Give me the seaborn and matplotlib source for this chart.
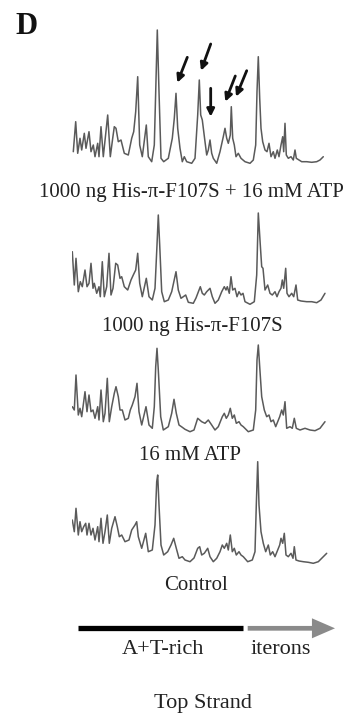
import matplotlib
matplotlib.use("Agg")
import matplotlib.pyplot as plt
import seaborn as sns

# ---------------------------------------------
# DATA - densitometry scans (position along strand, signal above baseline)
# ---------------------------------------------
pos_1 = [1.3, 3.7, 5.7, 8, 9.7, 12.3, 14, 17, 19, 21.3, 23, 25.7, 27, 29, 31.3, 35.7, 38.3,
         40.7, 42.3, 44, 46.3, 49, 52.3, 56.3, 59.7, 61.7, 63.7, 65.7, 67.7, 70.3, 74.3, 76.3,
         79.7, 82.3, 83.7, 85.3, 87, 89, 91.7, 96.3, 100.3, 102.3, 104, 105.7, 108, 110.3,
         112.3, 114.7, 119.7, 123, 125.7, 127.3, 128.7, 130.3, 133, 134.7, 136.3, 138, 139.7,
         141.3, 144.7, 148, 151.3, 153, 154.7, 156.3, 158.3, 159.3, 160.7, 162.3, 164, 166.3,
         169, 173, 178, 181.3, 183.7, 185, 186.3, 187.7, 189, 190.7, 193, 195, 197, 199, 201.3,
         203, 205.3, 207, 209, 210.7, 211.7, 213, 214.3, 216.3, 219, 221.3, 223, 224.3, 227,
         229.7, 234.7, 239.7, 244.7, 248, 251.3]
sig_1 = [13.3, 43.3, 11.7, 26.7, 15, 31.7, 16.7, 33.3, 13.3, 20, 8.3, 21.7, 8.3, 38.3, 8.3, 50,
         8.3, 26.7, 38.3, 36.7, 23.3, 25, 11.7, 10, 26.7, 33.3, 53.3, 88.3, 20, 8.3, 40, 8.3,
         3.3, 20, 73.3, 135, 73.3, 6.7, 3.3, 6.7, 26.7, 46.7, 71.7, 36.7, 16.7, 3.3, 8.3, 3.3,
         1.7, 6.7, 50, 85, 50, 45, 23.3, 10, 15, 25, 11.7, 6.7, 1.7, 13.3, 28.3, 36.7, 26.7,
         21.7, 30, 58.3, 26.7, 20, 8.3, 11.7, 6.7, 3.3, 1.7, 5, 20, 73.3, 108.3, 66.7, 36.7,
         23.3, 15, 13.3, 21.7, 8.3, 13.3, 6.7, 15, 8.3, 20, 28.3, 13.3, 41.7, 10, 6.7, 8.3, 5,
         15, 6.7, 5, 3.3, 3.3, 2.7, 3.3, 5, 8.3]

pos_2 = [0.3, 2.3, 4, 6.3, 8.3, 10.3, 13, 15, 17, 19, 21, 22.3, 24.7, 27, 28.3, 30.3, 32.3,
         34.7, 37, 39, 41, 43.7, 45.7, 48, 49.7, 52.3, 55.7, 59, 61.3, 63.7, 65.7, 67.7, 70.3,
         74.3, 77, 80.3, 83, 85, 86.3, 87.7, 89.7, 92.3, 96.3, 99.7, 104, 106.3, 109, 111.3,
         113.7, 116.3, 121.3, 124, 128.3, 130.3, 132.3, 134.7, 138, 140.3, 143, 146.3, 149.7,
         152.3, 154, 155.3, 157.3, 159, 160.7, 163, 165, 167, 169, 171, 173, 178, 182.3, 184.7,
         186.3, 188.3, 189.7, 191, 193, 195.7, 198, 200.3, 203, 205, 207, 209, 210.3, 211.7,
         213.7, 215, 217, 219.7, 221.7, 224, 225.7, 229, 234.7, 239.7, 244.7, 249, 253]
sig_2 = [54.3, 21, 47.7, 14.3, 24.3, 19.3, 36, 19.3, 22.7, 42.7, 17.7, 22.7, 12.7, 19.3, 9.3,
         44.3, 9.3, 19.3, 52.7, 11, 17.7, 42.7, 41, 27.7, 29.3, 19.3, 16, 26, 31, 36, 52.7, 22.7,
         9.3, 27.7, 9.3, 6, 17.7, 61, 91, 61, 14.3, 4.3, 6, 14.3, 34.3, 16, 7.7, 9.3, 11, 3.7,
         2.7, 8, 19.3, 12.7, 11, 14.3, 17.7, 9.3, 2.7, 6, 14.3, 19.3, 16, 19.3, 12.7, 29.3, 16,
         17.7, 9.3, 14.3, 11, 12.7, 4.3, 1.7, 4.3, 31, 93, 61, 39.3, 37.7, 16, 21, 12.7, 11,
         14.3, 9.3, 14.3, 17.7, 26, 17.7, 37.7, 12.7, 9.3, 12.7, 9.3, 21, 6, 5, 4.3, 4.3, 3.3,
         6, 12.7]

pos_3 = [0.3, 2.3, 4, 6.3, 8, 9.7, 11.7, 13, 15, 17, 19, 21, 23, 25.7, 27, 29, 31.3, 33, 35.3,
         37.3, 39.7, 42.3, 44, 46.3, 48, 50.3, 53, 56.3, 58.3, 60.3, 63, 65, 67, 69.7, 74, 77,
         80.3, 82.3, 83.7, 85, 86.3, 88.7, 91.3, 96.3, 99.7, 102, 104.3, 107, 110.3, 113, 118,
         122, 125.7, 127.7, 129.7, 133, 136.3, 139.7, 143, 146.3, 150.3, 152.3, 154.3, 156.3,
         158.3, 160.3, 162.3, 164.3, 167, 169, 171.3, 176.3, 181.3, 183.7, 185, 186.3, 187.7,
         189.7, 192.3, 194.7, 197, 199, 201.3, 203.7, 205.7, 207.7, 209.7, 211.3, 213, 214.7,
         218, 220.3, 222.3, 224.3, 228, 233, 238, 243, 248, 253]
sig_3 = [26.3, 23, 58, 18, 24.7, 16.3, 31.3, 41.3, 21.3, 38, 21.3, 23, 14.7, 26.3, 13, 43,
         11.3, 19.7, 54.7, 11.3, 26.3, 39.7, 46.3, 36.3, 23, 23, 13, 14.7, 23, 28, 36.3, 49.7,
         21.3, 8, 26.3, 8, 4.7, 26.3, 66.3, 84.7, 63, 16.3, 3, 6.3, 19.7, 33.7, 19.7, 8, 5.7,
         3.7, 1.3, 3, 14.7, 13, 11.3, 9.7, 13, 8, 3, 6.3, 16.3, 19.7, 14.7, 18, 24.7, 14.7, 18,
         9.7, 11.3, 8, 6.3, 1.3, 3, 23, 73, 88, 66.3, 36.3, 23, 16.3, 18, 11.3, 13, 6.3, 11.3,
         16.3, 23, 18, 31.3, 4.7, 6.3, 4.7, 14.7, 4.7, 3, 4.7, 3, 2.3, 4.7, 11.3]

pos_4 = [0.3, 2.3, 4, 6.3, 8, 9.7, 11.7, 13.7, 15, 17, 19, 21, 23, 25.7, 27, 29, 31, 33, 35.3,
         37.3, 39.7, 43, 45.3, 47.3, 49.7, 53, 57, 59.7, 63, 64.7, 66.3, 69.7, 73.7, 76.3, 80.3,
         83, 84.7, 85.7, 87, 89, 91.7, 95.7, 99, 101.7, 104.3, 107, 110.3, 113, 118, 122, 125.7,
         127.7, 129.7, 132.3, 135.7, 138, 141.3, 144.7, 148, 150.3, 152.3, 154.7, 156.3, 158.3,
         160.3, 162.3, 164.3, 167, 169, 171.3, 175.7, 180.3, 183, 184.3, 185.7, 187, 189, 191.3,
         193.7, 196.3, 198.3, 200.7, 203, 205.7, 207.7, 209, 210.7, 212.3, 214, 216.3, 219, 221,
         222.3, 224, 227, 231.3, 236.3, 241.3, 246.3, 251.3, 254.7]
sig_4 = [45, 33.3, 56.7, 30, 43.3, 33.3, 38.3, 41.7, 30, 41.7, 30, 36.7, 25, 38.3, 23.3, 46.7,
         21.7, 33.3, 50, 21.7, 36.7, 48.3, 38.3, 28.3, 30, 23.3, 25, 35, 40, 43.3, 28.3, 16.7,
         31.7, 13.3, 15, 40, 83.3, 90, 60, 20, 10, 13.3, 20, 26.7, 16.7, 6.7, 8.3, 5, 3.3, 7,
         16.7, 18.3, 10, 11.7, 16.7, 8.3, 3.3, 6.7, 13.3, 20, 16.7, 21.7, 15, 30, 13.3, 16.7, 10,
         13.3, 10, 8.3, 3.3, 5, 13.3, 60, 103.3, 60, 33.3, 21.7, 13.3, 20, 10, 13.3, 8.3, 15, 20,
         26.7, 21.7, 31.7, 10, 8.3, 11.7, 6.7, 18.3, 5, 4, 3.3, 2.7, 1.7, 3.3, 8.3, 11.7]

lane_pos = [pos_1, pos_2, pos_3, pos_4]
lane_sig = [sig_1, sig_2, sig_3, sig_4]
lane_labels = ['1000 ng His-\u03c0-F107S + 16 mM ATP', '1000 ng His-\u03c0-F107S',
               '16 mM ATP', 'Control']

# arrows marking the enhanced peaks on the top lane
arrow_head_x = [105.3, 129, 138.7, 153.3, 164]
arrow_head_y = [82.3, 94.3, 48.3, 63.3, 68.3]
arrow_tail_x = [115.3, 138.7, 138.7, 163.3, 174.7]
arrow_tail_y = [107.7, 121, 76.7, 89, 94.3]

# origin map under the scans
region_names = ['A+T-rich', 'iterons']
region_start = [6.3, 175.7]
region_end = [171.3, 263]

# ---------------------------------------------
# LAYOUT (pixel boxes of a 349 x 717 figure)
# ---------------------------------------------
W, H = 349, 717


def box(left, top, width, height):
    return [left / W, 1 - (top + height) / H, width / W, height / H]


sns.set_theme(style='white')
plt.rcParams['font.family'] = ['Liberation Serif', 'DejaVu Serif']

fig = plt.figure(figsize=(W / 100, H / 100), dpi=100)
fig.patch.set_facecolor('white')

lane_bottom = [165, 306, 433, 565]
label_xy = [(191, 193), (192.5, 326.7), (190, 455), (195.8, 585)]

for i in range(4):
    ax = fig.add_axes(box(72, lane_bottom[i] - 140, 258, 140))
    sns.lineplot(x=lane_pos[i], y=lane_sig[i], ax=ax, color='#5a5a5a', lw=1.1,
                 estimator=None, sort=False)
    ax.set_xlim(0, 258)
    ax.set_ylim(0, 140)
    ax.set_axis_off()
    ax.patch.set_alpha(0)
    if i == 0:
        for hx, hy, tx, ty in zip(arrow_head_x, arrow_head_y, arrow_tail_x, arrow_tail_y):
            ax.annotate('', xy=(hx, hy), xytext=(tx, ty),
                        arrowprops=dict(arrowstyle='-|>', color='#111111', lw=2.0,
                                        mutation_scale=11, shrinkA=0, shrinkB=0))
    lx, ly = label_xy[i]
    fig.text(lx / W, 1 - ly / H, lane_labels[i], ha='center', va='center',
             fontsize=15, color='#222222')

# origin map
axr = fig.add_axes(box(72, 611.3, 258, 34))
axr.set_xlim(0, 258)
axr.set_ylim(0, 1)
axr.set_axis_off()
axr.patch.set_alpha(0)
axr.plot([region_start[0], region_end[0]], [0.5, 0.5], color='black', lw=3.8,
         solid_capstyle='butt')
axr.annotate('', xy=(region_end[1], 0.5), xytext=(region_start[1], 0.5),
             annotation_clip=False,
             arrowprops=dict(arrowstyle='simple,head_length=1.66,head_width=1.44,tail_width=0.34',
                             mutation_scale=10, color='#8a8a8a', lw=0,
                             shrinkA=0, shrinkB=0))

fig.text(162.5 / W, 1 - 650 / H, region_names[0], ha='center', va='center',
         fontsize=16, color='#222222')
fig.text(280.8 / W, 1 - 650 / H, region_names[1], ha='center', va='center',
         fontsize=16, color='#222222')
fig.text(202.5 / W, 1 - 703.3 / H, 'Top Strand', ha='center', va='center',
         fontsize=16, color='#222222')
fig.text(15 / W, 1 - 27 / H, 'D', ha='left', va='center', fontsize=22,
         fontweight='bold', color='#111111')

fig.savefig('out.png', dpi=100)
